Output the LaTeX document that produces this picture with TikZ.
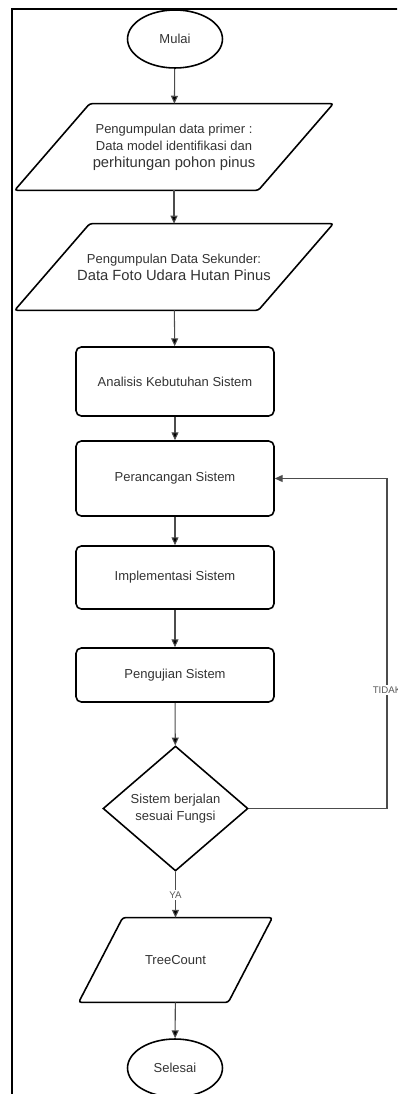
\documentclass[tikz,border=0pt]{standalone}
\usepackage{fontspec}
\setmainfont{Liberation Sans}
\usetikzlibrary{shapes.geometric,arrows.meta}

\begin{document}
\begin{tikzpicture}[x=0.02cm,y=-0.02cm,>={Triangle[length=4.5pt,width=4pt]},
  every node/.style={text=black!80,font=\fontsize{7.4}{9.6}\selectfont,align=center,inner sep=0pt},
  border/.style={draw=black,line width=0.9pt},
  term/.style={border,ellipse,minimum width=1.9cm,minimum height=1.16cm},
  io/.style={rectangle,minimum width=4.86cm,minimum height=1.72cm},
  proc/.style={border,rectangle,rounded corners=3pt,minimum width=3.96cm},
  cond/.style={border,diamond,minimum width=2.9cm,minimum height=2.5cm},
  flow/.style={draw=black!70,line width=0.6pt},
  lbl/.style={fill=white,text=black!65,font=\fontsize{5.5}{6}\selectfont,inner sep=1pt}]
        \clip (0,0) rectangle (397,1094);
        \draw[line width=0.9pt] (400,9) -- (12,9) -- (12,1100);
        \node[term] (start) at (175,39) {Mulai};
        \node[io] (prim) at (174,147) {Pengumpulan data primer :\\Data model identifikasi dan\\
          \fontsize{8.4}{10}\selectfont perhitungan pohon pinus};
        \node[io] (sek) at (174,267) {Pengumpulan Data Sekunder:\\
          \fontsize{8.4}{10}\selectfont Data Foto Udara Hutan Pinus};
        \node[proc,minimum height=1.38cm] (anal) at (175,381.5) {Analisis Kebutuhan Sistem};
        \node[proc,minimum height=1.5cm] (ranc) at (175,478.5) {Perancangan Sistem};
        \node[proc,minimum height=1.26cm] (impl) at (175,577.5) {Implementasi Sistem};
        \node[proc,minimum height=1.08cm] (uji) at (175,675) {Pengujian Sistem};
        \node[cond] (cek) at (175.5,808.5) {Sistem berjalan\\sesuai Fungsi};
        \node[io,minimum width=2.98cm,minimum height=1.68cm] (tree) at (175.5,960) {TreeCount};
        \node[term] (end) at (175,1068) {Selesai};
        \coordinate (back) at (387,808.5);
        % slanted outlines of the data nodes
        \foreach \n/\s in {prim/0.75cm,sek/0.75cm,tree/0.44cm}
          \draw[border,rounded corners=1.5pt] ([xshift=-\s]\n.south west) -- ([xshift=\s]\n.north west)
            -- ([xshift=\s]\n.north east) -- ([xshift=-\s]\n.south east) -- cycle;
        \draw[flow]
        (start) edge[->] (prim)
        (prim) edge[->] (sek)
        (sek) edge[->] (anal)
        (anal) edge[->] (ranc)
        (ranc) edge[->] (impl)
        (impl) edge[->] (uji)
        (uji) edge[->] (cek)
        (cek) edge[->] node[lbl] {YA} (tree)
        (tree) edge[->] (end)
        ;
        \draw[flow,->] (cek.east) -- (back) |- node[lbl,pos=0.18] {TIDAK} (ranc.east);
      \end{tikzpicture}
\end{document}
